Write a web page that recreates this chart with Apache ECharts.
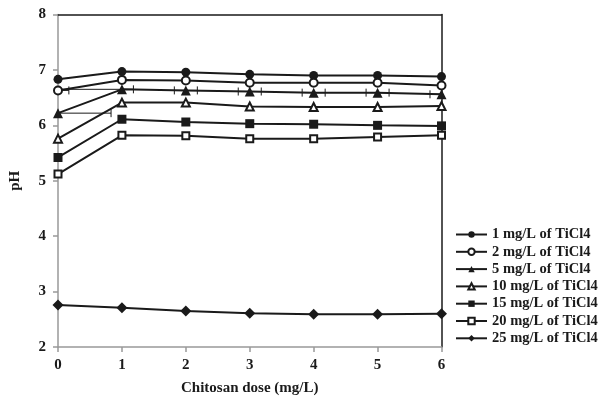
<!DOCTYPE html>
<html>
<head>
<meta charset="utf-8">
<script src="https://cdn.jsdelivr.net/npm/echarts@6/dist/echarts.min.js"></script>
<style>
html,body{margin:0;padding:0;background:#fff;}
#chart{width:598px;height:401px;}
</style>
</head>
<body>
<div id="chart"></div>
<script>
// ---- data ----
const doses = [0, 1, 2, 3, 4, 5, 6];
const seriesNames = ['1 mg/L of TiCl4','2 mg/L of TiCl4','5 mg/L of TiCl4','10 mg/L of TiCl4','15 mg/L of TiCl4','20 mg/L of TiCl4','25 mg/L of TiCl4'];
const ph1  = [6.83, 6.97, 6.96, 6.92, 6.90, 6.90, 6.88];
const ph2  = [6.63, 6.82, 6.81, 6.77, 6.77, 6.77, 6.72];
const ph5  = [6.22, 6.65, 6.63, 6.61, 6.59, 6.59, 6.56];
const ph10 = [5.76, 6.41, 6.41, 6.34, 6.33, 6.33, 6.35];
const ph15 = [5.42, 6.11, 6.06, 6.03, 6.02, 6.00, 5.99];
const ph20 = [5.12, 5.82, 5.81, 5.76, 5.76, 5.79, 5.82];
const ph25 = [2.76, 2.71, 2.65, 2.61, 2.59, 2.59, 2.60];
// horizontal (x) error bars: [dose, pH, low dose, high dose]
const xErr5 = [[0, 6.22, 0, 0.83],[1, 6.65, 0, 1.18],[2, 6.63, 1.82, 2.18],[3, 6.61, 2.82, 3.18],[4, 6.59, 3.82, 4.18],[5, 6.59, 4.82, 5.18],[6, 6.56, 5.82, 6.18]];
const xErr2 = [[0, 6.63, 0, 0.17]];
const yTicks = [2, 3, 4, 5, 6, 7, 8];
const xTicks = [0, 1, 2, 3, 4, 5, 6];

const allValues = [ph1, ph2, ph5, ph10, ph15, ph20, ph25];
const symbols = ['circle','emptyCircle','triangle','emptyTriangle','rect','emptyRect','diamond'];
const symSizes = [9, 8, 10, 8, 9, 7, 11];

const FONT = 'Liberation Serif';
const INK = '#1a1a1a';

const chart = echarts.init(document.getElementById('chart'), null, {renderer: 'canvas'});

const lineSeries = allValues.map((vals, i) => ({
  name: seriesNames[i],
  type: 'line',
  xAxisIndex: 0, yAxisIndex: 0,
  data: doses.map((d, j) => [d, vals[j]]),
  symbol: symbols[i],
  symbolSize: symSizes[i],
  showAllSymbol: true,
  lineStyle: {color: INK, width: 2},
  itemStyle: {color: INK, borderWidth: symbols[i].startsWith('empty') ? 1.6 : 0},
  emphasis: {disabled: true},
  z: 3 + i
}));

function errRender(params, api) {
  const y = api.value(1);
  const p1 = api.coord([api.value(2), y]);
  const p2 = api.coord([api.value(3), y]);
  const h = 4;
  const style = {stroke: INK, lineWidth: 1};
  const children = [
    {type: 'line', shape: {x1: p1[0], y1: p1[1], x2: p2[0], y2: p2[1]}, style},
    {type: 'line', shape: {x1: p2[0], y1: p2[1] - h, x2: p2[0], y2: p2[1] + h}, style}
  ];
  if (api.value(2) > 0) {
    children.push({type: 'line', shape: {x1: p1[0], y1: p1[1] - h, x2: p1[0], y2: p1[1] + h}, style});
  }
  return {type: 'group', children};
}

const errSeries = [xErr5, xErr2].map(arr => ({
  type: 'custom',
  xAxisIndex: 0, yAxisIndex: 0,
  data: arr,
  renderItem: errRender,
  clip: true,
  silent: true,
  z: 2,
  encode: {x: [0, 2, 3], y: 1}
}));

chart.setOption({
  animation: false,
  backgroundColor: '#fff',
  grid: {left: 56.5, right: 156.5, top: 14.5, bottom: 53},
  legend: {
    orient: 'vertical',
    left: 455,
    top: 227,
    padding: 0,
    itemWidth: 31,
    itemHeight: 8,
    itemGap: 2.3,
    data: seriesNames,
    textStyle: {fontFamily: FONT, fontWeight: 'bold', fontSize: 14.5, color: INK, lineHeight: 14},
    selectedMode: false
  },
  xAxis: [{
    type: 'value', min: 0, max: 6, interval: 1,
    name: 'Chitosan dose (mg/L)', nameLocation: 'middle', nameGap: 34,
    nameTextStyle: {fontFamily: FONT, fontWeight: 'bold', fontSize: 15, color: INK},
    axisLine: {show: true, lineStyle: {color: '#999', width: 1.5}},
    axisTick: {show: true, length: 5, lineStyle: {color: '#999', width: 1.5}},
    axisLabel: {fontFamily: FONT, fontWeight: 'bold', fontSize: 15, color: INK, margin: 11,
      formatter: v => xTicks.includes(v) ? String(v) : ''},
    splitLine: {show: false}
  }, {
    type: 'value', position: 'top', min: 0, max: 6,
    axisLine: {show: true, onZero: false, lineStyle: {color: INK, width: 1.5}},
    axisTick: {show: false}, axisLabel: {show: false}, splitLine: {show: false}
  }],
  yAxis: [{
    type: 'value', min: 2, max: 8, interval: 1,
    name: 'pH', nameLocation: 'middle', nameGap: 35, nameRotate: 90,
    nameTextStyle: {fontFamily: FONT, fontWeight: 'bold', fontSize: 15, color: INK},
    axisLine: {show: true, onZero: false, lineStyle: {color: '#999', width: 1.5}},
    axisTick: {show: true, length: 5, lineStyle: {color: '#999', width: 1.5}},
    axisLabel: {fontFamily: FONT, fontWeight: 'bold', fontSize: 15, color: INK, margin: 12,
      formatter: v => yTicks.includes(v) ? String(v) : ''},
    splitLine: {show: false}
  }, {
    type: 'value', position: 'right', min: 2, max: 8,
    axisLine: {show: true, onZero: false, lineStyle: {color: INK, width: 1.5}},
    axisTick: {show: false}, axisLabel: {show: false}, splitLine: {show: false}
  }],
  series: [...errSeries, ...lineSeries]
});
</script>
</body>
</html>
